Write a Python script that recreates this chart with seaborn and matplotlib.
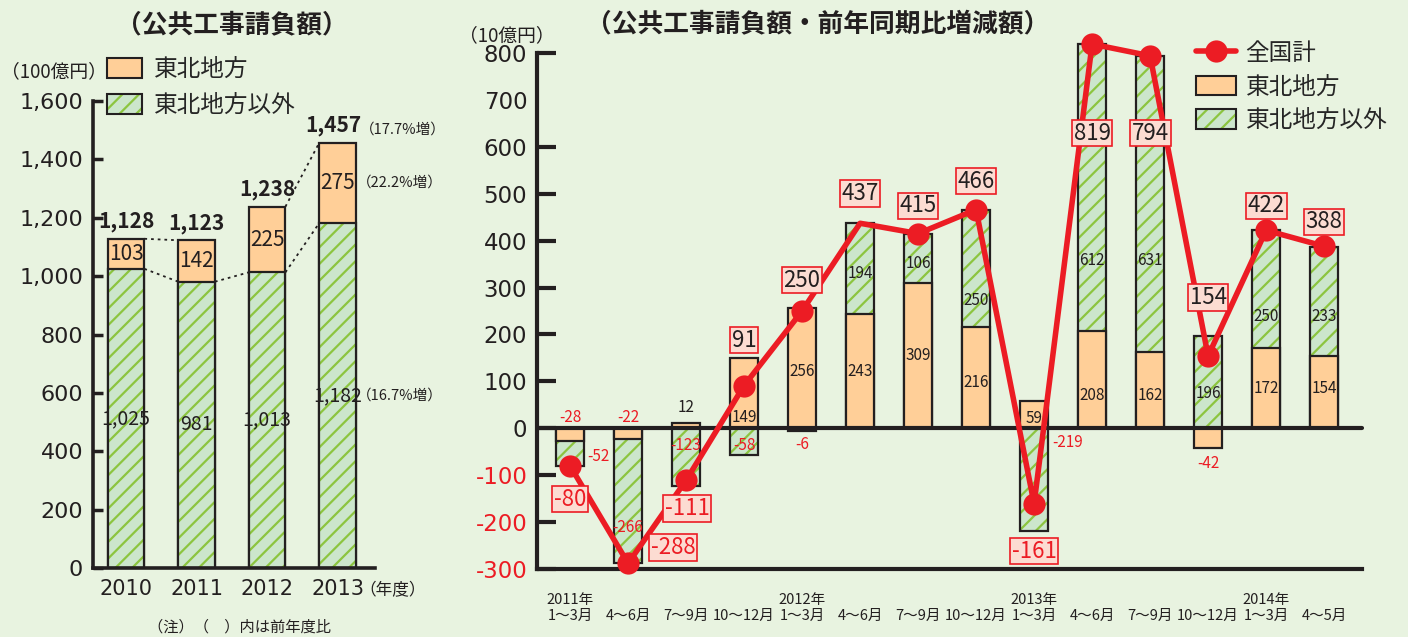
import numpy as np
import pandas as pd
import seaborn as sns
import matplotlib.pyplot as plt
from matplotlib.lines import Line2D
from matplotlib.patches import Patch
from matplotlib.ticker import FuncFormatter

sns.set_style('white')
plt.rcParams['font.family'] = ['Noto Sans CJK JP', 'DejaVu Sans']
plt.rcParams['hatch.linewidth'] = 1.6

BG = '#e8f3e0'
ORANGE = '#ffcf98'
GREEN = '#cce6cc'
HATCH = '#8cc540'
RED = '#ec1c24'
INK = '#231f20'
BOXFILL = '#fcdcd2'
DIGITS = ['DejaVu Sans', 'Noto Sans CJK JP']

# left chart: 公共工事請負額 (100億円)
years = ['2010', '2011', '2012', '2013']
tohoku_year = [103, 142, 225, 275]
other_year = [1025, 981, 1013, 1182]
total_year = [1128, 1123, 1238, 1457]
pct_total, pct_tohoku, pct_other = '17.7', '22.2', '16.7'

# right chart: 前年同期比増減額 (10億円)
periods = ['2011年\n1～3月', '\n4～6月', '\n7～9月', '\n10～12月',
           '2012年\n1～3月', '\n4～6月', '\n7～9月', '\n10～12月',
           '2013年\n1～3月', '\n4～6月', '\n7～9月', '\n10～12月',
           '2014年\n1～3月', '\n4～5月']
tohoku_diff = [-28, -22, 12, 149, 256, 243, 309, 216, 59, 208, 162, -42, 172, 154]
other_diff = [-52, -266, -123, -58, -6, 194, 106, 250, -219, 612, 631, 196, 250, 233]
total_diff = [-80, -288, -111, 91, 250, 437, 415, 466, -161, 819, 794, 154, 422, 388]

# label placement (value units) for the right chart
tohoku_lab_y = [23, 23, 45, 23, 120, 120, 155, 98, 21, 70, 70, -75, 85, 85]
other_lab_y = [-61, -211, -36, -36, -34, 330, 352, 273, -30, 358, 358, 75, 239, 239]
other_lab_dx = [0.48, 0, 0, 0, 0, 0, 0, 0, 0.57, 0, 0, 0, 0, 0]
total_lab_x = [0, 1.78, 2.02, 3, 4, 5, 6, 7, 8, 9, 10, 11, 12, 13]
total_lab_y = [-151, -254, -171, 188, 316, 500, 474, 527, -262, 629, 629, 279, 474, 440]

fig = plt.figure(figsize=(14.08, 6.37), dpi=100, facecolor=BG)
axl = fig.add_axes([0.066, 0.1083, 0.2003, 0.7331])
axr = fig.add_axes([0.3814, 0.1068, 0.586, 0.81])
for ax in (axl, axr):
    ax.set_facecolor(BG)
    sns.despine(ax=ax)

# ---------- left chart ----------
W_L = 0.52
left = pd.DataFrame({'year': years, 'tohoku': tohoku_year,
                     'other': other_year, 'total': total_year})
sns.barplot(data=left, x='year', y='total', color=ORANGE, saturation=1, width=W_L,
            edgecolor=INK, linewidth=1.6, errorbar=None, ax=axl)
sns.barplot(data=left, x='year', y='other', color=GREEN, saturation=1, width=W_L,
            edgecolor=HATCH, linewidth=0, hatch='//', errorbar=None, ax=axl)
sns.barplot(data=left, x='year', y='other', fill=False, color=INK, saturation=1,
            width=W_L, linewidth=1.6, errorbar=None, ax=axl)

dots = dict(color=INK, lw=1.3, ls=(0, (1.5, 2.2)), zorder=4)
for i in (0, 2):
    axl.plot([i + W_L / 2, i + 1 - W_L / 2], [total_year[i], total_year[i + 1]], **dots)
for i in range(3):
    axl.plot([i + W_L / 2, i + 1 - W_L / 2], [other_year[i], other_year[i + 1]], **dots)

for i in range(4):
    axl.text(i, (other_year[i] + total_year[i]) / 2, str(tohoku_year[i]),
             ha='center', va='center', fontsize=15, color=INK)
    axl.text(i, other_year[i] / 2, f'{other_year[i]:,}', ha='center', va='center',
             fontsize=14, color=INK)
    axl.text(i - (0.06 if i == 3 else 0), total_year[i] + 22, f'{total_year[i]:,}',
             ha='center', va='bottom', fontsize=15, fontweight='bold', color=INK)
axl.text(3 + W_L / 2 + 0.06, total_year[3] + 22, f'（{pct_total}%増）', ha='left',
         va='bottom', fontsize=10.5, color=INK)
axl.text(3 + W_L / 2 + 0.02, (other_year[3] + total_year[3]) / 2, f'（{pct_tohoku}%増）',
         ha='left', va='center', fontsize=10.5, color=INK)
axl.text(3 + W_L / 2 + 0.02, other_year[3] / 2, f'（{pct_other}%増）',
         ha='left', va='center', fontsize=10.5, color=INK)

axl.set_xlim(-0.47, 3.53)
axl.set_ylim(0, 1600)
axl.set_yticks(range(0, 1601, 200))
axl.yaxis.set_major_formatter(FuncFormatter(lambda v, p: f'{int(v):,}'))
axl.tick_params(axis='y', direction='in', length=7, width=2.5, pad=7,
                labelsize=16, colors=INK, left=True)
axl.tick_params(axis='x', length=0, pad=8, labelsize=15, colors=INK)
for lab in axl.get_yticklabels() + axl.get_xticklabels():
    lab.set_family(DIGITS)
axl.set_xlabel('')
axl.set_ylabel('')
for s in ('left', 'bottom'):
    axl.spines[s].set_linewidth(2.6)
    axl.spines[s].set_color(INK)
axl.text(0.945, -0.048, '（年度）', transform=axl.transAxes, ha='left', va='center',
         fontsize=12, color=INK)

green_handle = (Patch(fc=GREEN, ec=HATCH, lw=0, hatch='//'),
                Patch(fc='none', ec=INK, lw=1.5))
axl.legend([Patch(fc=ORANGE, ec=INK, lw=1.5), green_handle], ['東北地方', '東北地方以外'],
           loc='upper left', bbox_to_anchor=(107 / 1408, 1 - 58 / 637),
           bbox_transform=fig.transFigure, frameon=False, fontsize=17,
           handlelength=1.5, handleheight=0.9, labelspacing=0.55, handletextpad=0.5,
           borderaxespad=0, borderpad=0)

# ---------- right chart ----------
W_R = 0.48
pos = np.arange(len(periods))
o = np.array(tohoku_diff)
g = np.array(other_diff)
green_end = np.where(np.sign(o) == np.sign(g), o + g, g)

sns.barplot(x=pos, y=green_end, color=GREEN, saturation=1, width=W_R,
            edgecolor=HATCH, linewidth=0, hatch='//', errorbar=None, ax=axr)
sns.barplot(x=pos, y=green_end, fill=False, color=INK, saturation=1, width=W_R,
            linewidth=1.6, errorbar=None, ax=axr)
sns.barplot(x=pos, y=o, color=ORANGE, saturation=1, width=W_R,
            edgecolor=INK, linewidth=1.6, errorbar=None, ax=axr)
axr.axhline(0, color=INK, lw=3, zorder=3)

sns.lineplot(x=pos, y=total_diff, color=RED, lw=4, marker='o', markersize=16,
             markeredgewidth=0, markevery=[i for i in pos if i != 5], ax=axr, zorder=5)
# the two tallest bars and their points rise above the 800 line
for art in list(axr.patches) + list(axr.lines):
    art.set_clip_on(False)

for i in pos:
    v = tohoku_diff[i]
    axr.text(i, tohoku_lab_y[i], str(v), ha='center', va='center', fontsize=11,
             color=RED if v < 0 else INK, zorder=4)
    v = other_diff[i]
    axr.text(i + other_lab_dx[i], other_lab_y[i], str(v), ha='center', va='center',
             fontsize=11, color=RED if v < 0 else INK, zorder=4)
    v = total_diff[i]
    axr.text(total_lab_x[i], total_lab_y[i], str(v), ha='center', va='center',
             fontsize=16, color=RED if v < 0 else INK, zorder=7,
             bbox=dict(boxstyle='square,pad=0.08', fc=BOXFILL, ec=RED, lw=1.2))

axr.set_xlim(-0.57, 13.655)
axr.set_ylim(-300, 800)
axr.set_yticks(range(-300, 801, 100))
axr.yaxis.set_major_formatter(FuncFormatter(lambda v, p: str(int(v))))
axr.tick_params(axis='y', direction='in', length=14, width=3, pad=7,
                labelsize=16.5, colors=INK, left=True)
for lab, v in zip(axr.get_yticklabels(), range(-300, 801, 100)):
    lab.set_color(RED if v < 0 else INK)
    lab.set_family(DIGITS)
axr.yaxis.get_major_ticks()[10].tick1line.set_visible(False)
axr.set_xticks(pos)
axr.set_xticklabels(periods, fontsize=10.5, color=INK, linespacing=1.25)
axr.tick_params(axis='x', length=0, pad=17)
axr.set_xlabel('')
axr.set_ylabel('')
for s in ('left', 'bottom'):
    axr.spines[s].set_linewidth(3)
    axr.spines[s].set_color(INK)

axr.legend([Line2D([], [], color=RED, lw=4, marker='o', ms=16, mew=0),
            Patch(fc=ORANGE, ec=INK, lw=1.5), green_handle],
           ['全国計', '東北地方', '東北地方以外'],
           loc='upper left', bbox_to_anchor=(1196 / 1408, 1 - 42 / 637),
           bbox_transform=fig.transFigure, frameon=False, fontsize=17,
           handlelength=1.7, handleheight=0.9, labelspacing=0.45, handletextpad=0.4,
           borderaxespad=0, borderpad=0)

# titles, units and note
fig.text(232 / 1408, 1 - 25 / 637, '（公共工事請負額）', ha='center', va='center',
         fontsize=18.5, fontweight='bold', color=INK)
fig.text(818 / 1408, 1 - 25 / 637, '（公共工事請負額・前年同期比増減額）', ha='center',
         va='center', fontsize=18.5, fontweight='bold', color=INK)
fig.text(54 / 1408, 1 - 72 / 637, '（100億円）', ha='center', va='center',
         fontsize=13.5, color=INK)
fig.text(507 / 1408, 1 - 36 / 637, '（10億円）', ha='center', va='center',
         fontsize=13.5, color=INK)
fig.text(240 / 1408, 1 - 627 / 637, '（注）（　）内は前年度比', ha='center', va='center',
         fontsize=11, color=INK)

fig.savefig('out.png', dpi=100, facecolor=BG)
